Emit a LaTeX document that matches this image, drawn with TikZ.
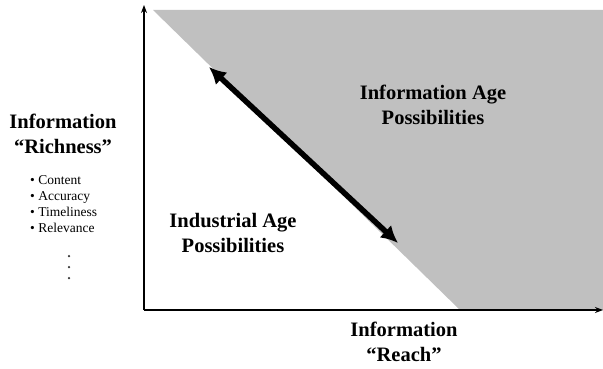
\documentclass[tikz,border=0pt]{standalone}
\usepackage{fontspec}
\setmainfont{Liberation Serif}
\usetikzlibrary{arrows.meta}
\definecolor{regiongray}{RGB}{192,192,192}
\tikzset{
  bigtext/.style={font=\fontsize{20.5}{24.5}\selectfont\bfseries, align=center, inner sep=0pt},
  smalltext/.style={font=\fontsize{13.5}{16}\selectfont, align=left, inner sep=0pt},
  axis/.style={line width=1.5pt, -{Stealth[length=8pt,width=6pt]}},
  dblarrow/.style={line width=5.5pt, {Latex[length=17pt,width=17pt]}-{Latex[length=17pt,width=17pt]}},
  dotmark/.style={circle, fill=black!80, inner sep=0pt, minimum size=2.5pt}
}
\begin{document}
\begin{tikzpicture}[x=1pt,y=-1pt]
\useasboundingbox (0,0) rectangle (603,369);
\fill[white] (0,0) rectangle (603,369);
% gray region
\fill[regiongray] (153,10) -- (603,10) -- (603,310) -- (460,310) -- cycle;
% axes
\coordinate (O) at (144,310);
\coordinate (ytop) at (144,5);
\coordinate (xend) at (603,310);
\draw[axis] (O) -- (ytop);
\draw[axis] (O) -- (xend);
% double arrow
\coordinate (aS) at (209,67);
\coordinate (aE) at (398,243);
\draw[dblarrow] (aS) -- (aE);
% labels
\node[bigtext] (infoage) at (433,105) {Information Age\\Possibilities};
\node[bigtext] (indage) at (233,233) {Industrial Age\\Possibilities};
\node[bigtext] (reach) at (404,342) {Information\\“Reach”};
\node[bigtext] (rich) at (63,134) {Information\\“Richness”};
\node[smalltext, anchor=north west] (list) at (30,175) {• Content\\• Accuracy\\• Timeliness\\• Relevance};
\node[dotmark] (d1) at (69,256) {};
\node[dotmark] (d2) at (69,267) {};
\node[dotmark] (d3) at (69,278) {};
\end{tikzpicture}
\end{document}
